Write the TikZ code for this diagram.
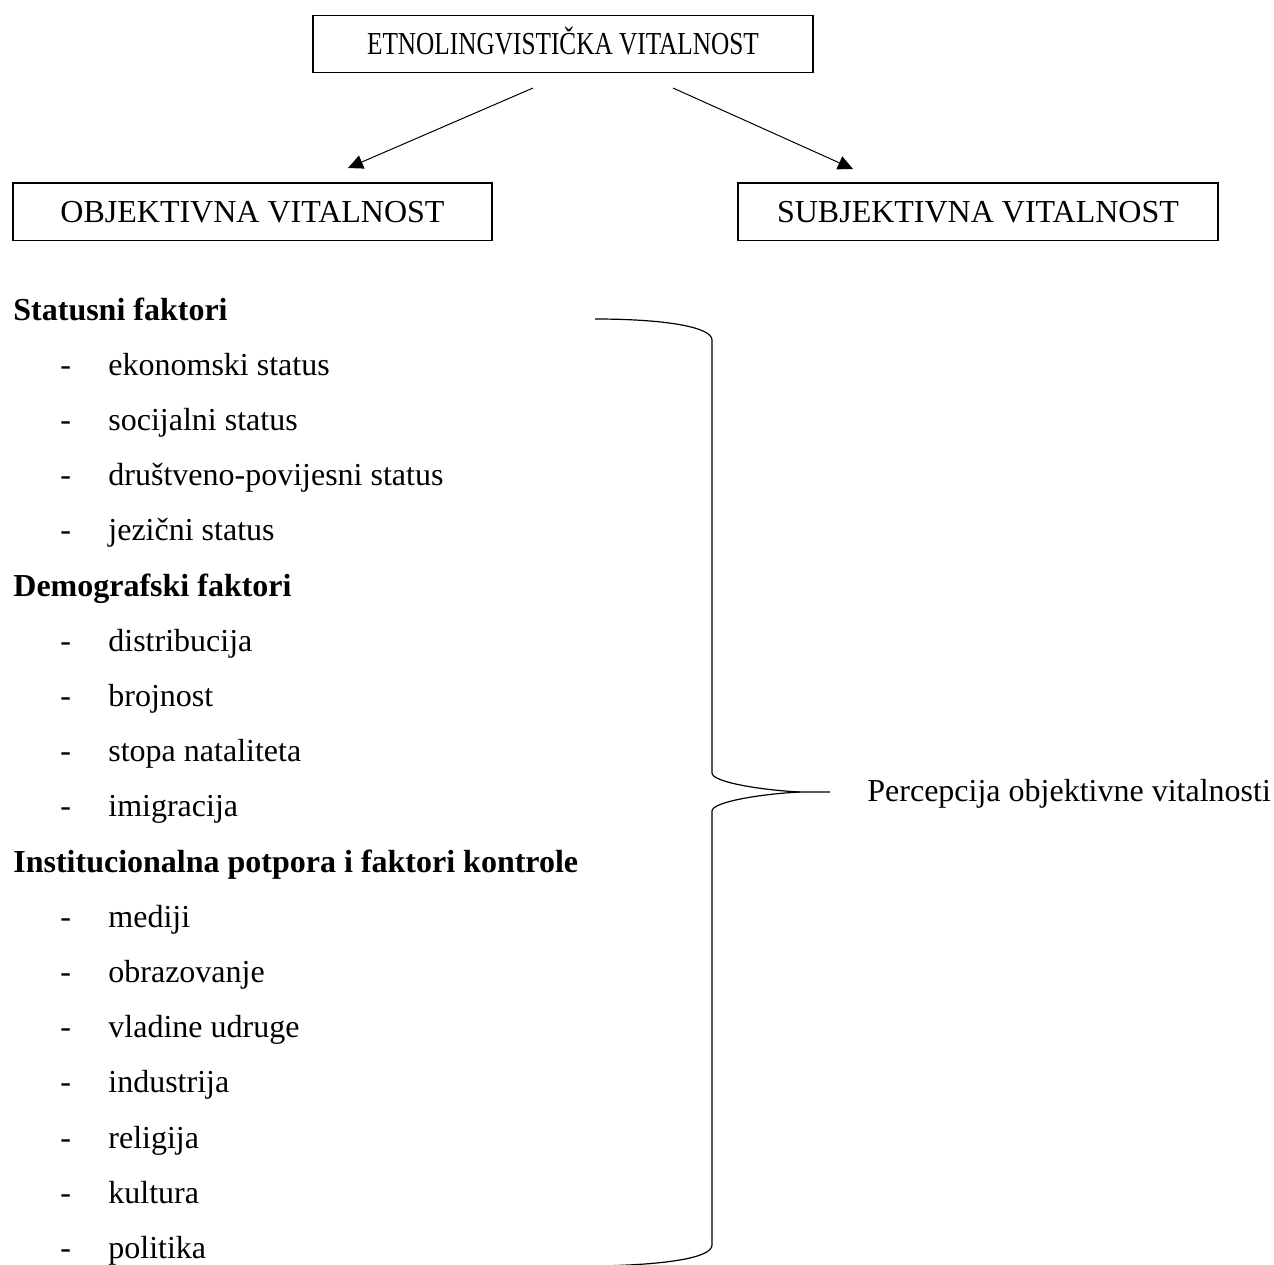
\documentclass[tikz,border=0pt]{standalone}
\usepackage{fontspec}
\usepackage{graphicx}
\setmainfont{Liberation Serif}
\usetikzlibrary{arrows.meta}
\begin{document}
\begin{tikzpicture}[x=0.5pt,y=-0.5pt,
  every node/.style={font=\fontsize{16pt}{19pt}\selectfont},
  box/.style={draw,line width=0.7pt,inner sep=0pt,text height=10.6pt,text depth=0pt,minimum height=28.7pt},
  txt/.style={inner sep=0pt,anchor=base west},
  head/.style={txt,font=\fontsize{16pt}{19pt}\selectfont\bfseries},
  arr/.style={line width=0.5pt,-{Triangle[length=7.5pt,width=7pt]}},
  bracestyle/.style={line width=0.6pt}]
\useasboundingbox (0,0) rectangle (1274,1264);
% boxes
\node[box,minimum width=250pt] (top) at (563,44) {\scalebox{0.79}[1]{ETNOLINGVISTIČKA VITALNOST}};
\node[box,minimum width=239.5pt] (obj) at (252.5,211.5) {OBJEKTIVNA VITALNOST};
\node[box,minimum width=240pt] (subj) at (978,211.5) {SUBJEKTIVNA VITALNOST};
% arrows
\coordinate (a1s) at (533,88);
\coordinate (a1e) at (348,168);
\coordinate (a2s) at (673,88);
\coordinate (a2e) at (853,169);
\draw[arr] (a1s) -- (a1e);
\draw[arr] (a2s) -- (a2e);
% lists
\node[head] (h1) at (13,320) {Statusni faktori};
\node[head] (h2) at (13,596) {Demografski faktori};
\node[head] (h3) at (13,872) {Institucionalna potpora i faktori kontrole};
\foreach \k/\t in {1/ekonomski status,2/socijalni status,3/društveno-povijesni status,4/jezični status,
  6/distribucija,7/brojnost,8/stopa nataliteta,9/imigracija,
  11/mediji,12/obrazovanje,13/vladine udruge,14/industrija,15/religija,16/kultura,17/politika}{
  \node[txt] (d\k) at (60,{320+55.2*\k}) {-};
  \node[txt] (i\k) at (108,{320+55.2*\k}) {\t};
}
% brace
\draw[bracestyle] (595,319) .. controls (665,319) and (712,327) .. (712,340)
  -- (712,773) .. controls (712,782) and (760,790) .. (800,792) -- (830,792);
\draw[bracestyle] (800,792) .. controls (760,794) and (712,802) .. (712,811)
  -- (712,1245) .. controls (712,1258) and (665,1265) .. (595,1266);
\node[txt] (perc) at (867,801) {Percepcija objektivne vitalnosti};
\end{tikzpicture}
\end{document}
